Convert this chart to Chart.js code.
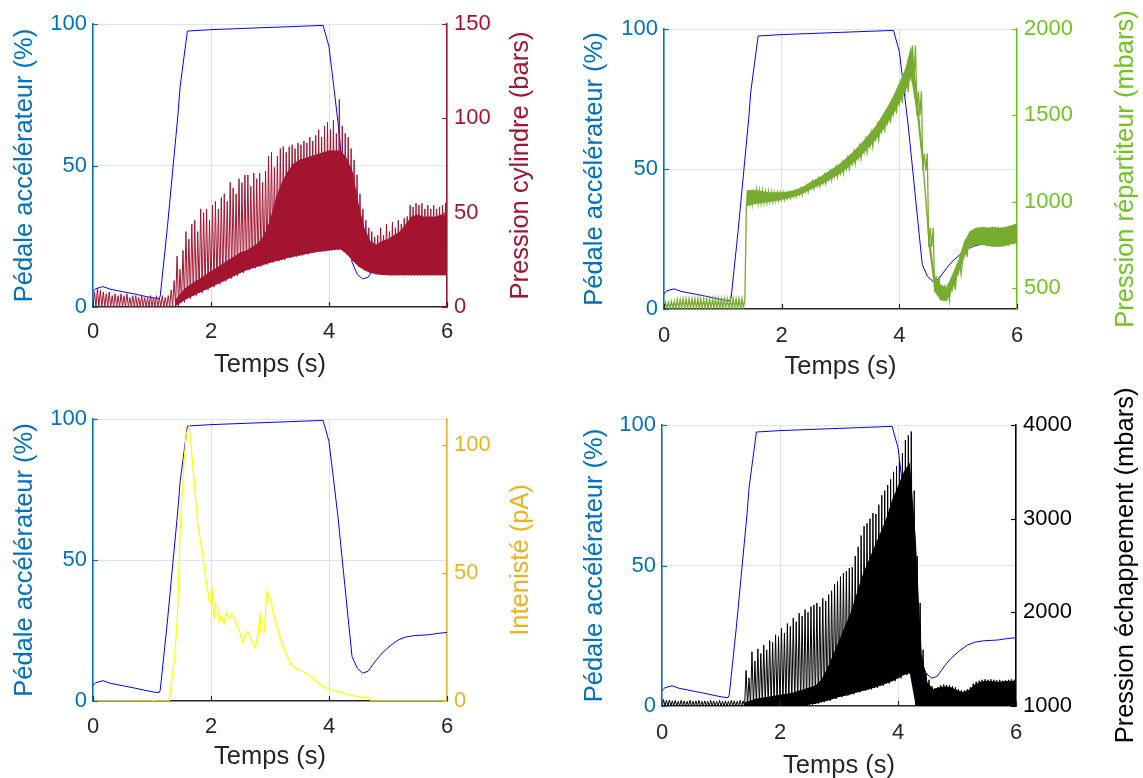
<!DOCTYPE html>
<html>
<head>
<meta charset="utf-8">
<script src="https://cdn.jsdelivr.net/npm/chart.js@4.4.0/dist/chart.umd.min.js"></script>
<style>
  html, body { margin: 0; padding: 0; background: #fff; }
  #wrap { position: relative; width: 1143px; height: 778px; }
  #wrap canvas { position: absolute; left: 0; top: 0; pointer-events: none; }
</style>
</head>
<body>
<div id="wrap">
  <canvas id="c1" width="1143" height="778"></canvas>
  <canvas id="c2" width="1143" height="778"></canvas>
  <canvas id="c3" width="1143" height="778"></canvas>
  <canvas id="c4" width="1143" height="778"></canvas>
</div>
<script>
// ---- tick labels ----
var X_TICKS = [0, 2, 4, 6];
var PEDAL_TICKS = [0, 50, 100];
var CYL_TICKS = [0, 50, 100, 150];
var REP_TICKS = [500, 1000, 1500, 2000];
var INT_TICKS = [0, 50, 100];
var ECH_TICKS = [1000, 2000, 3000, 4000];

// ---- accelerator pedal (%), same run in the 4 plots ----
var pedalT = [0, 0.05, 0.17, 0.29, 0.53, 0.7, 0.9, 1.05, 1.12, 1.14, 1.26, 1.44, 1.475, 1.54, 1.6, 2.0, 3.0, 3.9, 4.0, 4.15,
  4.27, 4.39, 4.48, 4.57, 4.66, 4.8, 4.9, 5.05, 5.18, 5.3, 5.45, 5.7, 5.85, 6.0];
var pedalV = [5.5, 6.5, 7.2, 6.3, 5.3, 4.6, 3.7, 3.1, 3.0, 3.9, 28, 68, 77.5, 88, 97.5, 98, 98.8, 99.5, 92, 65.7,
  40.7, 15.8, 11.6, 9.9, 10.5, 14.5, 17, 19.8, 21.7, 22.7, 23.2, 23.5, 24, 24.3];

// envelopes are sampled every DT_ENV s, spike tops every DT_PEAK s
var DT_ENV = 0.1, DT_PEAK = 0.05;

// ---- cylinder pressure (bars) ----
var cylLow = [0, 0, 0, 0, 0, 0, 0, 0, 0, 0, 0, 0, 0, 0,
  0.5, 2.5, 4.5, 6, 7.5, 9, 10.5, 12, 13.5, 15, 16.5, 18, 19.5, 20.5, 21.5, 22.5, 23.5, 24.3, 25, 26,
  26.7, 27.3, 28, 28.6, 29.2, 29.5, 30, 30.3, 30.5, 28, 24.5, 21.5, 19.5, 18, 17.3, 17, 16.8,
  16.8, 16.8, 16.8, 16.8, 16.8, 16.8, 16.8, 16.8, 16.8, 16.8];
var cylBody = [0, 0, 0, 0, 0, 0, 0, 0, 0, 0, 0, 0, 0, 0,
  4, 8, 11, 13, 15, 17, 19, 21, 23, 25, 27, 29, 30, 32, 34, 38, 46, 58, 66, 72,
  76, 78, 79, 80, 81, 82, 83, 83, 83, 79, 72, 55, 42, 35, 33, 35, 36, 38, 40, 44,
  48, 49, 48, 48, 48, 49, 49];
var cylPeak = [8, 10, 9, 8, 7, 8, 6, 7, 6, 7, 6, 7, 5, 6, 6, 5, 6, 5, 5, 6,
  5, 6, 5, 6, 5, 6, 9, 14, 27, 20, 30, 40, 36, 44, 46, 40, 52, 50, 52, 46,
  54, 56, 52, 58, 60, 56, 66, 63, 60, 68, 66, 70, 70, 64, 71, 68, 71, 66, 72, 80,
  82, 74, 80, 84, 85, 82, 85, 86, 84, 87, 86, 88, 87, 90, 88, 91, 94, 90, 96, 98,
  94, 99, 92, 110, 96, 92, 90, 84, 78, 70, 60, 52, 46, 42, 40, 37, 38, 42, 38, 44,
  40, 45, 42, 46, 44, 47, 48, 54, 53, 55, 54, 55, 52, 54, 52, 54, 52, 53, 54, 55,
  53];

// ---- rail pressure (mbars) ----
var repLow = [383, 383, 383, 383, 383, 383, 383, 383, 383, 383, 383, 383, 383, 383,
  975, 985, 990, 995, 1000, 1005, 1012, 1020, 1030, 1040,
  1055, 1075, 1090, 1105, 1125, 1145, 1165, 1190, 1220, 1250,
  1285, 1320, 1360, 1405, 1455, 1510, 1570, 1635, 1720, 1500,
  1180, 740, 480, 430, 425, 490, 580, 680, 740, 750,
  750, 745, 740, 740, 745, 755, 760];
var repHigh = [420, 425, 435, 440, 440, 440, 440, 440, 440, 440,
  440, 440, 440, 440, 1065, 1070, 1065, 1060, 1055, 1055,
  1055, 1058, 1065, 1078, 1095, 1118, 1135, 1155, 1178, 1200,
  1225, 1255, 1285, 1320, 1358, 1398, 1440, 1495, 1552, 1615,
  1690, 1770, 1905, 1640, 1280, 850, 570, 520, 505, 580,
  660, 770, 830, 850, 855, 850, 855, 850, 855, 865,
  875];

// ---- current (pA) ----
var intT = [0, 1.0, 1.02, 1.05, 1.29, 1.32, 1.38, 1.43, 1.48, 1.54, 1.58, 1.63, 1.67, 1.72, 1.78, 1.87, 1.93, 1.98, 2.0, 2.02,
  2.05, 2.08, 2.11, 2.14, 2.18, 2.22, 2.26, 2.3, 2.36, 2.4, 2.45, 2.5, 2.54, 2.58, 2.63, 2.68, 2.72, 2.75, 2.8, 2.83,
  2.85, 2.9, 2.95, 3.02, 3.08, 3.15, 3.22, 3.27, 3.36, 3.48, 3.55, 3.63, 3.75, 3.9, 4.05, 4.24, 4.48, 4.69, 4.72, 6.0];
var intV = [0, 0, 0.4, 0, 0, 5.6, 16, 32, 68.5, 92, 104, 107, 98, 84, 68.5, 55.4, 45, 38.4, 40, 43,
  32, 38, 37, 31, 33, 30, 34.5, 32, 34, 32, 29, 26, 22.5, 26, 27, 24, 22, 20.7, 26, 34.5,
  27, 27, 42.6, 38.4, 32, 26.6, 21, 18.7, 14, 12.2, 11.5, 10.6, 8.3, 5.6, 4.3, 3, 1.7, 1, 0, 0];

// ---- exhaust pressure (mbars) ----
var echLow = [1000, 1000, 1000, 1000, 1000, 1000, 1000, 1000, 1000, 1000,
  1000, 1000, 1000, 1000, 1000, 1000, 1000, 1000, 1000, 1000,
  1000, 1000, 1000, 1000, 1000, 1015, 1025, 1040, 1055, 1075,
  1095, 1110, 1125, 1145, 1160, 1175, 1195, 1215, 1240, 1265,
  1295, 1330, 1350, 1000, 1000, 1000, 1000, 1000, 1000, 1000,
  1000, 1000, 1000, 1000, 1000, 1000, 1000, 1000, 1000, 1000, 1000];
var echBody = [1000, 1000, 1000, 1000, 1000, 1000, 1000, 1000, 1000, 1000, 1000, 1000, 1000, 1000,
  1040, 1060, 1080, 1090, 1100, 1110, 1120, 1130, 1140, 1160,
  1180, 1200, 1220, 1280, 1400, 1550, 1700, 1850, 2000, 2200,
  2400, 2550, 2700, 2850, 3000, 3200, 3350, 3500, 3600, 2800,
  1550, 1250, 1180, 1200, 1210, 1200, 1170, 1150, 1170, 1230,
  1260, 1270, 1265, 1260, 1265, 1270, 1270];
var echPeak = [1070, 1060, 1065, 1055, 1060, 1050, 1060, 1055, 1050, 1060, 1050, 1055, 1060, 1050, 1055, 1050, 1060, 1055, 1050, 1060,
  1050, 1055, 1050, 1060, 1055, 1050, 1060, 1055, 1380, 1300, 1580, 1480, 1610, 1560, 1650, 1600, 1700, 1680, 1760, 1740,
  1830, 1780, 1880, 1850, 1940, 1900, 1990, 1960, 2030, 2000, 2060, 2080, 2100, 2060, 2150, 2120, 2190, 2230, 2300, 2330,
  2380, 2420, 2440, 2470, 2480, 2600, 2700, 2820, 2920, 2950, 3000, 3060, 3050, 3150, 3250, 3300, 3360, 3420, 3500, 3560,
  3610, 3700, 3840, 3890, 3930, 3300, 2600, 2100, 1600, 1350, 1280, 1210, 1190, 1200, 1220, 1230, 1225, 1220, 1210, 1200,
  1180, 1170, 1165, 1180, 1200, 1240, 1260, 1270, 1280, 1285, 1280, 1285, 1280, 1275, 1280, 1270, 1275, 1280, 1285, 1280,
  1280];

var W = 1143, H = 778;
var FONT = "'Liberation Sans', Arial, Helvetica, sans-serif";
var TICK_PX = 22, TITLE_PX = 25.5;
var AX_BLUE = '#0072BD', TXT = '#262626';
var AXIS_W = 60, X_H = 50, TICK_LEN = 5;

function xy(ts, vs) {
  return ts.map(function (t, i) { return { x: t, y: vs[i] }; });
}
// envelope as points, starting at sample "from"
function env(vals, from) {
  var p = [];
  for (var k = from; k < vals.length; k++) p.push({ x: k * DT_ENV, y: vals[k] });
  return p;
}
// trough / spike-top alternation
function spikes(low, peak) {
  var p = [];
  for (var i = 0; i < peak.length; i++) {
    var t = i * DT_PEAK;
    p.push({ x: t, y: low[Math.floor(i * DT_PEAK / DT_ENV + 1e-9)] });
    p.push({ x: t + DT_PEAK / 2, y: peak[i] });
  }
  return p;
}
// band between two envelopes, drawn as a zigzag
function zigzag(low, high) {
  var p = [], n = Math.round(DT_ENV / DT_PEAK);
  for (var k = 0; k < low.length; k++) {
    for (var j = 0; j < n; j++) {
      var t = k * DT_ENV + j * DT_PEAK;
      p.push({ x: t, y: low[k] });
      p.push({ x: t + DT_PEAK / 2, y: high[k] });
    }
  }
  return p;
}

function fixTicks(list) {
  return function (s) { s.ticks = list.map(function (v) { return { value: v }; }); };
}

function decor(p) {
  return {
    id: 'decor' + p.id,
    afterDraw: function (chart) {
      var c = chart.ctx, a = chart.chartArea;
      var sx = chart.scales.x, sl = chart.scales.y, sr = chart.scales.y2;
      c.save();
      c.lineWidth = 1.2;
      c.strokeStyle = TXT;
      sx.ticks.forEach(function (t) {
        var px = Math.round(sx.getPixelForValue(t.value)) + 0.5;
        c.beginPath(); c.moveTo(px, a.bottom); c.lineTo(px, a.bottom - TICK_LEN); c.stroke();
      });
      c.strokeStyle = AX_BLUE;
      sl.ticks.forEach(function (t) {
        var py = Math.round(sl.getPixelForValue(t.value)) + 0.5;
        c.beginPath(); c.moveTo(a.left, py); c.lineTo(a.left + TICK_LEN, py); c.stroke();
      });
      c.strokeStyle = p.rColor;
      sr.ticks.forEach(function (t) {
        var py = Math.round(sr.getPixelForValue(t.value)) + 0.5;
        c.beginPath(); c.moveTo(a.right, py); c.lineTo(a.right - TICK_LEN, py); c.stroke();
      });

      c.font = TITLE_PX + 'px ' + FONT;
      c.textAlign = 'center';
      c.textBaseline = 'middle';
      c.fillStyle = TXT;
      c.fillText('Temps (s)', (a.left + a.right) / 2, a.bottom + p.xTitle);
      var cy = (a.top + a.bottom) / 2;
      c.save(); c.translate(p.lTitleX, cy); c.rotate(-Math.PI / 2);
      c.fillStyle = AX_BLUE; c.fillText('Pédale accélérateur (%)', 0, 0); c.restore();
      c.save(); c.translate(p.rTitleX, cy); c.rotate(-Math.PI / 2);
      c.fillStyle = p.rColor; c.fillText(p.rTitle, 0, 0); c.restore();
      c.restore();
    }
  };
}

function makePanel(p) {
  var font = { family: FONT, size: TICK_PX };
  var datasets = p.series.concat([{
    data: xy(pedalT, pedalV), yAxisID: 'y', borderColor: '#0000FF', borderWidth: 1, order: 10
  }]);
  new Chart(document.getElementById(p.id), {
    type: 'line',
    data: { datasets: datasets },
    options: {
      responsive: false,
      animation: false,
      devicePixelRatio: 1,
      events: [],
      layout: {
        autoPadding: false,
        padding: { left: p.box[0] - AXIS_W, top: p.box[1], right: W - p.box[2] - AXIS_W, bottom: H - p.box[3] - X_H }
      },
      elements: { point: { radius: 0 }, line: { tension: 0, borderJoinStyle: 'miter' } },
      plugins: { legend: { display: false }, tooltip: { enabled: false } },
      scales: {
        x: {
          type: 'linear', min: 0, max: 6,
          afterBuildTicks: fixTicks(X_TICKS),
          afterFit: function (s) { s.height = X_H; },
          ticks: { font: font, color: TXT, padding: p.xPad, maxRotation: 0, callback: function (v) { return String(v); } },
          grid: { drawTicks: false, lineWidth: 1,
            color: function (c) { return c.tick && c.tick.value > 0 && c.tick.value < 6 ? '#dedede' : 'rgba(0,0,0,0)'; } },
          border: { color: TXT, width: 1.6 }
        },
        y: {
          type: 'linear', position: 'left', min: 0, max: 100,
          afterBuildTicks: fixTicks(PEDAL_TICKS),
          afterFit: function (s) { s.width = AXIS_W; },
          ticks: { font: font, color: AX_BLUE, padding: 6, callback: function (v) { return String(v); } },
          grid: { drawTicks: false, lineWidth: 1,
            color: function (c) { return c.tick && c.tick.value > 0 ? '#d6e7f4' : 'rgba(0,0,0,0)'; } },
          border: { color: AX_BLUE, width: 1.6 }
        },
        y2: {
          type: 'linear', position: 'right', min: p.rMin, max: p.rMax,
          afterBuildTicks: fixTicks(p.rTicks),
          afterFit: function (s) { s.width = AXIS_W; },
          ticks: { font: font, color: p.rColor, padding: 7, callback: function (v) { return String(v); } },
          grid: { display: false, drawTicks: false },
          border: { color: p.rColor, width: 1.6 }
        }
      }
    },
    plugins: [decor(p)]
  });
}

var RED = '#A2142F', GREEN = '#77AC30', GREEN_AX = '#6FC41F', YELLOW = '#FFFF00', ORANGE = '#EDB120', BLACK = '#000000';
var NONE = 'rgba(0,0,0,0)';

makePanel({
  id: 'c1', box: [93, 24, 447, 307], xPad: 12, xTitle: 58, lTitleX: 25, rTitleX: 521,
  rMin: 0, rMax: 150, rTicks: CYL_TICKS, rColor: RED, rTitle: 'Pression cylindre (bars)',
  series: [
    { data: env(cylLow, 14), yAxisID: 'y2', borderColor: NONE, borderWidth: 0, order: 3 },
    { data: env(cylBody, 14), yAxisID: 'y2', borderColor: NONE, borderWidth: 0, fill: '-1', backgroundColor: RED, order: 2 },
    { data: spikes(cylLow, cylPeak), yAxisID: 'y2', borderColor: RED, borderWidth: 1, order: 1 }
  ]
});

makePanel({
  id: 'c2', box: [664, 29, 1017, 309], xPad: 14, xTitle: 58, lTitleX: 595, rTitleX: 1126,
  rMin: 380, rMax: 2000, rTicks: REP_TICKS, rColor: GREEN_AX, rTitle: 'Pression répartiteur (mbars)',
  series: [
    { data: env(repLow, 14), yAxisID: 'y2', borderColor: NONE, borderWidth: 0, order: 3 },
    { data: env(repHigh, 14), yAxisID: 'y2', borderColor: NONE, borderWidth: 0, fill: '-1', backgroundColor: GREEN, order: 2 },
    { data: zigzag(repLow, repHigh), yAxisID: 'y2', borderColor: GREEN, borderWidth: 1.3, order: 1 }
  ]
});

makePanel({
  id: 'c3', box: [93, 419, 447, 701], xPad: 13, xTitle: 56, lTitleX: 25, rTitleX: 521,
  rMin: 0, rMax: 110, rTicks: INT_TICKS, rColor: ORANGE, rTitle: 'Intenisté (pA)',
  series: [
    { data: xy(intT, intV), yAxisID: 'y2', borderColor: YELLOW, borderWidth: 1.3, order: 1 }
  ]
});

makePanel({
  id: 'c4', box: [662, 425, 1016, 706], xPad: 14, xTitle: 60, lTitleX: 595, rTitleX: 1126,
  rMin: 1000, rMax: 4000, rTicks: ECH_TICKS, rColor: BLACK, rTitle: 'Pression échappement (mbars)',
  series: [
    { data: env(echLow, 14), yAxisID: 'y2', borderColor: NONE, borderWidth: 0, order: 3 },
    { data: env(echBody, 14), yAxisID: 'y2', borderColor: NONE, borderWidth: 0, fill: '-1', backgroundColor: BLACK, order: 2 },
    { data: spikes(echLow, echPeak), yAxisID: 'y2', borderColor: BLACK, borderWidth: 1, order: 1 }
  ]
});
</script>
</body>
</html>
